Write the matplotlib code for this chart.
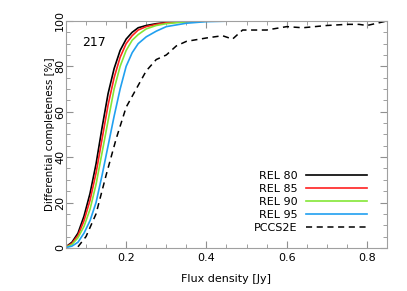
import numpy as np
import matplotlib
matplotlib.use('Agg')
from matplotlib import pyplot as plt
from matplotlib.ticker import MultipleLocator

# flux bins [Jy]
flux = [0.05, 0.065, 0.08, 0.095, 0.11, 0.125, 0.14, 0.155, 0.17, 0.185, 0.20,
        0.215, 0.23, 0.25, 0.275, 0.30, 0.35, 0.40, 0.45, 0.50, 0.55, 0.60]
rel80 = [0.5, 2.5, 6.5, 14, 24, 37, 53, 68, 79, 87, 92,
         95, 97, 98, 98.8, 99.3, 99.8, 100, 100, 100, 100, 100]
rel85 = [0.4, 2.0, 5.5, 12, 21, 33, 48, 63, 75, 84, 90,
         93.5, 96, 97.5, 98.5, 99.2, 99.7, 100, 100, 100, 100, 100]
rel90 = [0.3, 1.5, 4.5, 9.5, 17, 28, 42, 56, 70, 80, 87,
         91.5, 94, 96.5, 98, 98.8, 99.6, 99.9, 100, 100, 100, 100]
rel95 = [0.2, 0.8, 2.5, 6.5, 12, 20, 32, 45, 58, 70, 80,
         86, 90, 93, 95.5, 97.5, 99, 99.7, 99.9, 100, 100, 100]

flux_pccs = [0.08, 0.10, 0.125, 0.15, 0.175, 0.20, 0.225, 0.25, 0.275, 0.30,
             0.325, 0.35, 0.40, 0.44, 0.465, 0.49, 0.55, 0.60, 0.64, 0.70,
             0.75, 0.78, 0.80, 0.85]
pccs2e = [0.5, 5, 15, 32, 48, 62, 70, 78, 83, 85,
          89, 91, 92.5, 93.5, 92, 96, 96, 97.5, 97, 98,
          98.5, 98.5, 98, 100]

labels = ['REL 80', 'REL 85', 'REL 90', 'REL 95']
colors = ['black', '#ff2020', '#84e636', '#20a0f0']

plt.rcParams['font.family'] = 'DejaVu Sans'
plt.rcParams['font.size'] = 8

fig = plt.figure(figsize=(4.07, 2.91), dpi=100)
ax = fig.add_axes([0.162, 0.148, 0.789, 0.780])

for y, lab, c in zip([rel80, rel85, rel90, rel95], labels, colors):
    ax.plot(flux, y, color=c, lw=1.2, label=lab)
ax.plot(flux_pccs, pccs2e, color='black', lw=1.1, dashes=(4, 3), label='PCCS2E')

ax.set_xlim(0.05, 0.85)
ax.set_ylim(0, 100)
ax.xaxis.set_major_locator(MultipleLocator(0.2))
ax.xaxis.set_minor_locator(MultipleLocator(0.05))
ax.yaxis.set_major_locator(MultipleLocator(20))
ax.yaxis.set_minor_locator(MultipleLocator(5))
ax.tick_params(which='both', direction='in', top=True, right=True, color='#909090')
ax.tick_params(which='major', length=5)
ax.tick_params(which='minor', length=3)
ax.tick_params(axis='y', pad=0.5)
for lab in ax.get_yticklabels():
    lab.set_rotation(90)
    lab.set_va('center')
for s in ax.spines.values():
    s.set_color('#a0a0a0')

ax.set_xlabel('Flux density [Jy]', labelpad=8)
ax.set_ylabel('Differential completeness [%]', labelpad=0, fontsize=7.4)
ax.text(0.05, 0.89, '217', transform=ax.transAxes, fontsize=9)

ax.legend(loc='lower right', bbox_to_anchor=(0.938, 0.065), frameon=False,
          markerfirst=False, handlelength=5.5, handletextpad=0.8,
          labelspacing=0.28, borderpad=0, borderaxespad=0)

fig.savefig('out.png', dpi=100)
